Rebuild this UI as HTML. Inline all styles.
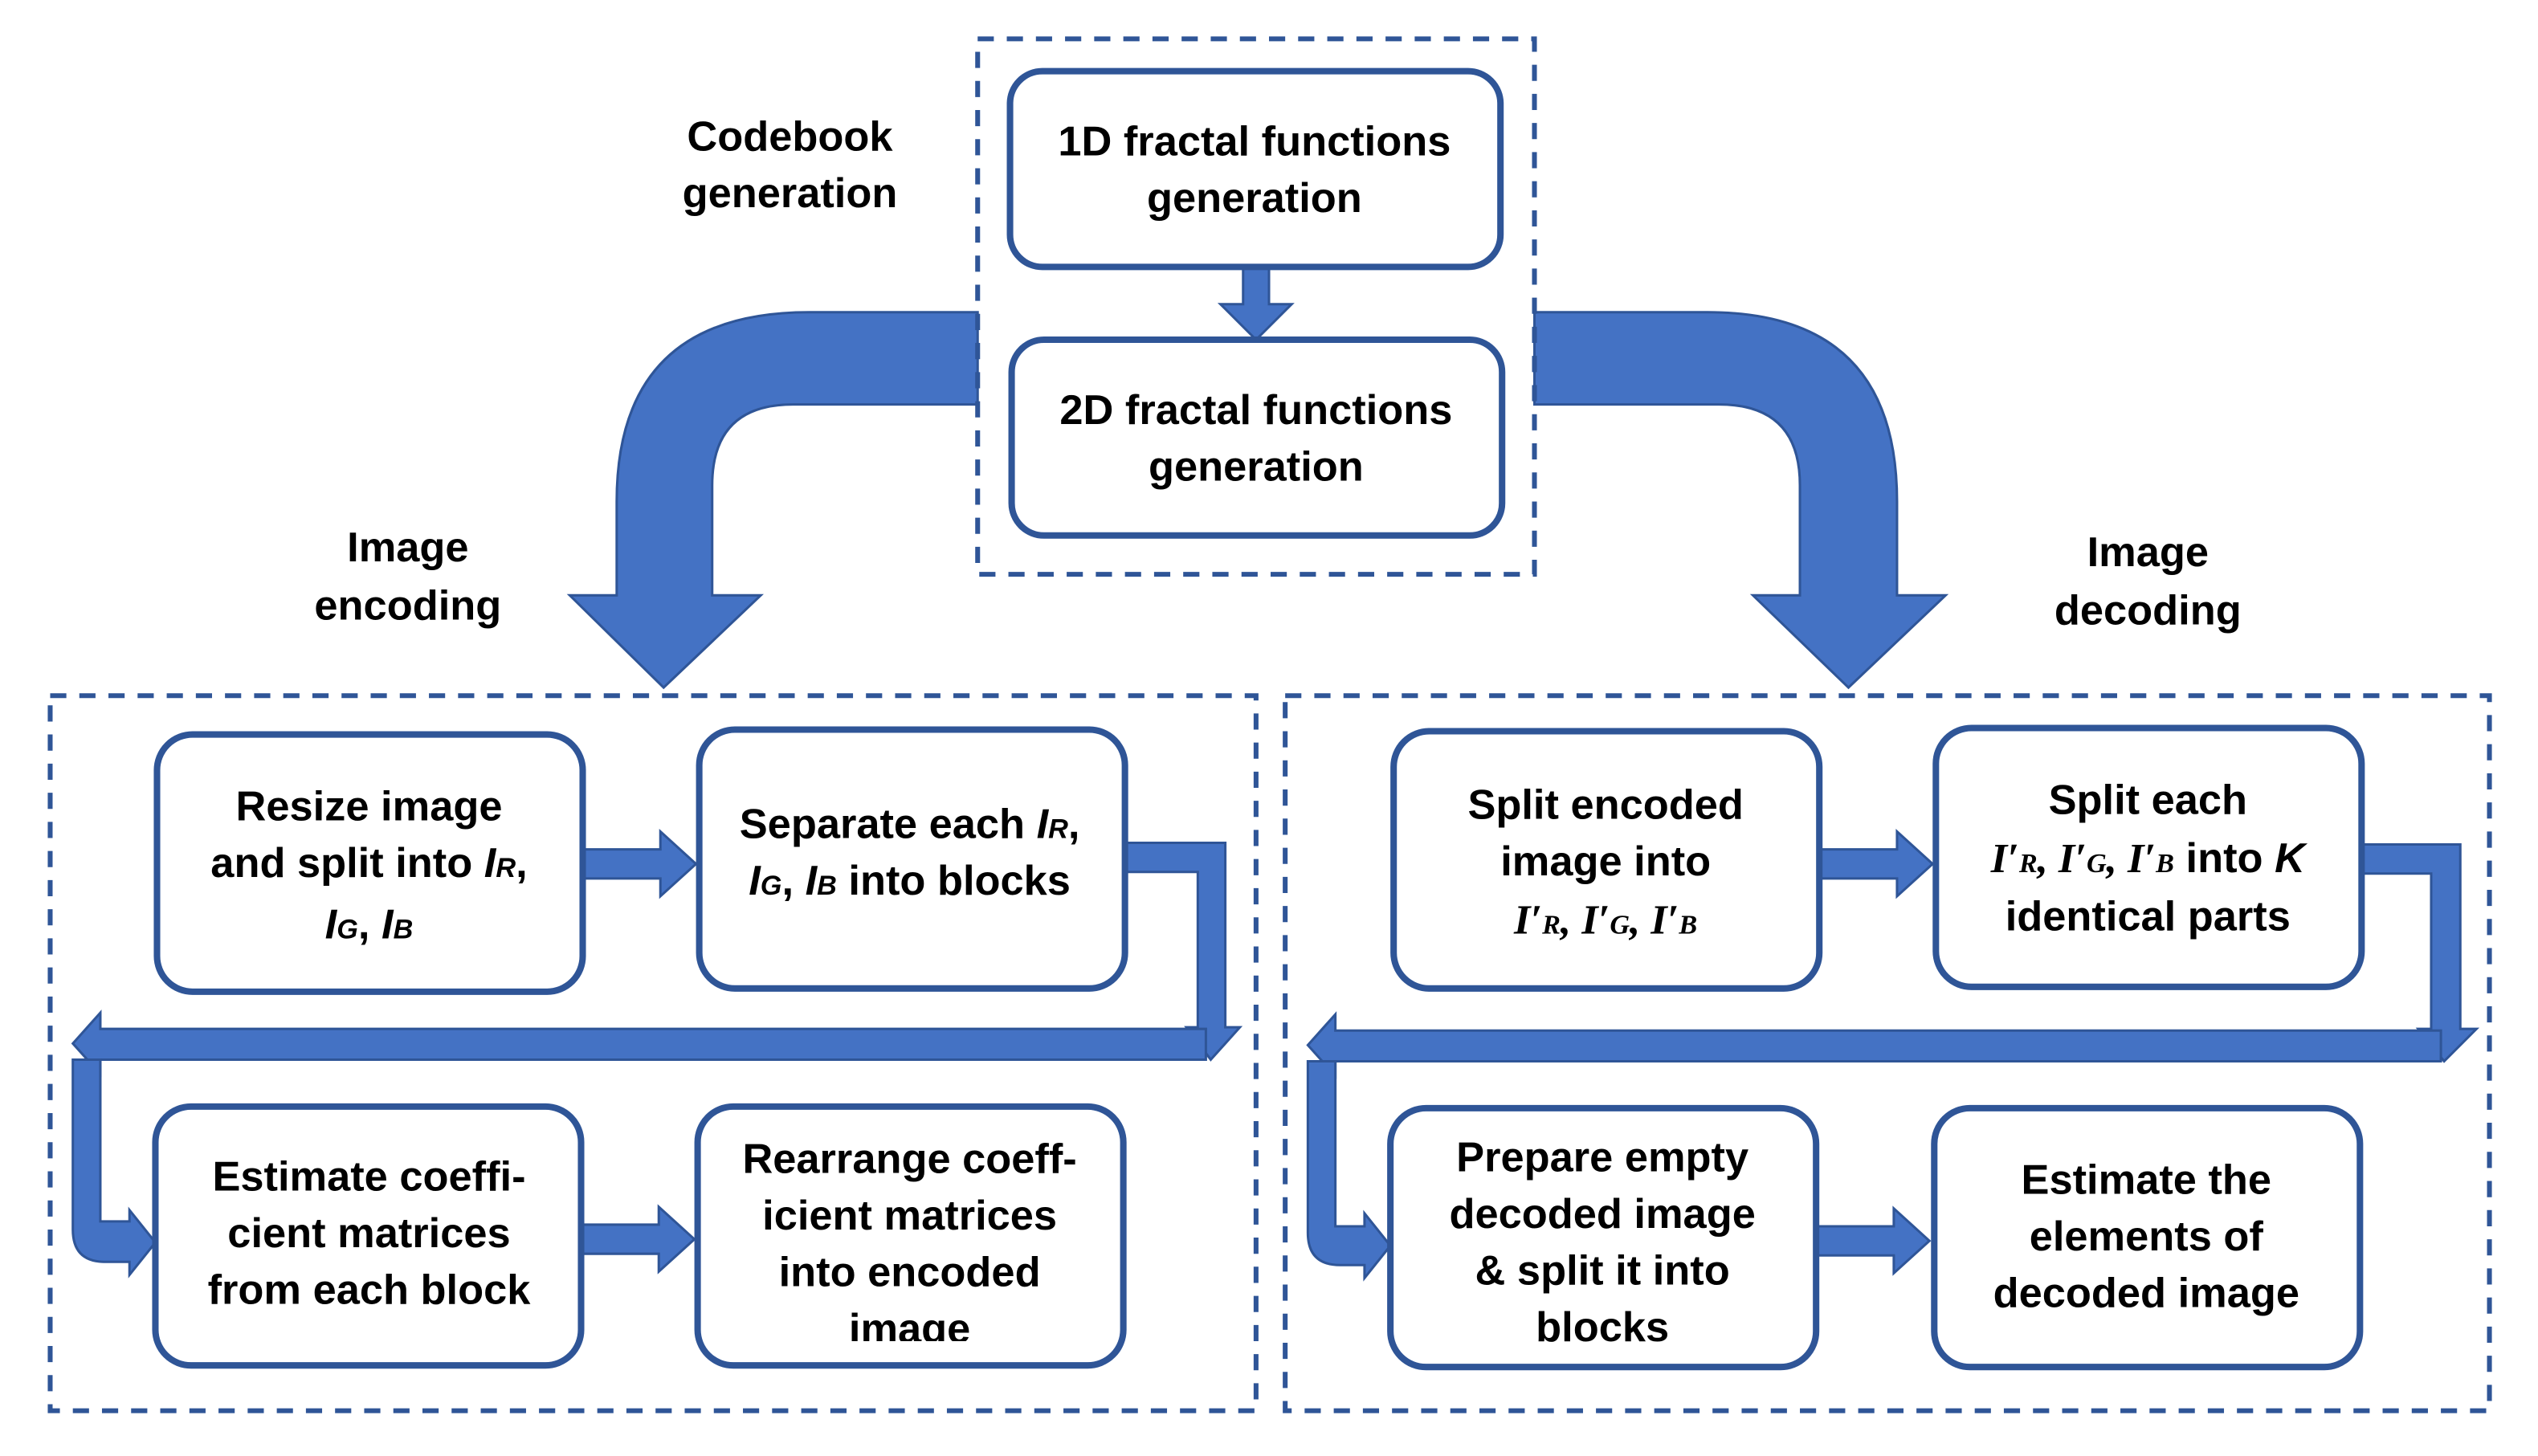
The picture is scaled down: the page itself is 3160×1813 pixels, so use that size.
<!DOCTYPE html>
<html><head><meta charset="utf-8"><style>
html,body{margin:0;padding:0;background:#fff;}
svg{display:block;}
text{font-family:"Liberation Sans",Arial,sans-serif;font-weight:bold;font-size:26px;fill:#000;text-anchor:middle;}
.i{font-style:italic;}
.s{font-size:17px;font-style:italic;}
</style></head><body>
<svg width="3160" height="1813" viewBox="0 0 1568 900" preserveAspectRatio="none" xmlns="http://www.w3.org/2000/svg">
<g fill="#4472C4" stroke="#2F5597" stroke-width="1.5">
<path d="M604,193 L500,193 Q381,193 381,310 L381,368 L352,368 L410,425 L470,368 L440,368 L440,300 Q440,250 490,250 L604,250 Z"/>
<path d="M948,193 L1055,193 Q1172,193 1172,310 L1172,368 L1202,368 L1142,425 L1083,368 L1112,368 L1112,300 Q1112,250 1062,250 L948,250 Z"/>
<path d="M768,165 L784,165 L784,188 L798,188 L776,210 L754,188 L768,188 Z"/>
<path d="M360,525 L408,525 L408,514 L430,534 L408,554 L408,543 L360,543 Z"/>
<path d="M359,757 L407,757 L407,746 L429,766 L407,786 L407,775 L359,775 Z"/>
<path d="M1124,525 L1172,525 L1172,514 L1194,534 L1172,554 L1172,543 L1124,543 Z"/>
<path d="M1122,758 L1170,758 L1170,747 L1192,767 L1170,787 L1170,776 L1122,776 Z"/>
<path d="M695,521 L757,521 L757,635 L766,635 L748,655 L733,635 L740,635 L740,539 L695,539 Z"/>
<path d="M745,636 L62,636 L62,626 L45,645 L62,664 L62,655 L745,655 Z"/>
<path d="M45,655 L62,655 L62,755 L80,755 L80,748 L96,768 L80,788 L80,780 L65,780 Q45,780 45,760 Z"/>
<path d="M1459,522 L1520,522 L1520,636 L1530,636 L1510,656 L1494,636 L1502,636 L1502,540 L1459,540 Z"/>
<path d="M1508,637 L825,637 L825,627 L808,646 L825,665 L825,656 L1508,656 Z"/>
<path d="M808,656 L825,656 L825,758 L843,758 L843,750 L859,770 L843,790 L843,782 L828,782 Q808,782 808,762 Z"/>
</g>
<g fill="none" stroke="#2F5597" stroke-width="3" stroke-dasharray="10,8">
<rect x="604" y="24" width="344" height="331"/>
<rect x="31" y="430" width="745" height="442"/>
<rect x="794" y="430" width="744" height="442"/>
</g>
<g fill="#fff" stroke="#2F5597" stroke-width="4">
<rect x="624" y="44" width="303" height="121" rx="20"/>
<rect x="625" y="210" width="303" height="121" rx="20"/>
<rect x="97" y="454" width="263" height="159" rx="22"/>
<rect x="432" y="451" width="263" height="160" rx="22"/>
<rect x="96" y="684" width="263" height="160" rx="22"/>
<rect x="431" y="684" width="263" height="160" rx="22"/>
<rect x="861" y="452" width="263" height="159" rx="22"/>
<rect x="1196" y="450" width="263" height="160" rx="22"/>
<rect x="859" y="685" width="263" height="160" rx="22"/>
<rect x="1195" y="685" width="263" height="160" rx="22"/>
</g>
<text x="488" y="93">Codebook</text><text x="488" y="128">generation</text>
<text x="252" y="347">Image</text><text x="252" y="383">encoding</text>
<text x="1327" y="350">Image</text><text x="1327" y="386">decoding</text>
<text x="775" y="96">1D fractal functions</text><text x="775" y="131">generation</text>
<text x="776" y="262">2D fractal functions</text><text x="776" y="297">generation</text>
<text x="228" y="507">Resize image</text>
<text x="228" y="542">and split into <tspan class="i">I</tspan><tspan class="s">R</tspan>,</text>
<text x="228" y="580"><tspan class="i">I</tspan><tspan class="s">G</tspan>, <tspan class="i">I</tspan><tspan class="s">B</tspan></text>
<text x="562" y="518">Separate each <tspan class="i">I</tspan><tspan class="s">R</tspan>,</text>
<text x="562" y="553"><tspan class="i">I</tspan><tspan class="s">G</tspan>, <tspan class="i">I</tspan><tspan class="s">B</tspan> into blocks</text>
<text x="228" y="736">Estimate coeffi-</text>
<text x="228" y="771">cient matrices</text>
<text x="228" y="806">from each block</text>
<text x="562" y="725">Rearrange coeff-</text>
<text x="562" y="760">icient matrices</text>
<text x="562" y="795">into encoded</text>
<svg x="431" y="805" width="263" height="24" viewBox="431 805 263 24"><text x="562" y="830">image</text></svg>
<text x="992" y="506">Split encoded</text>
<text x="992" y="541">image into</text>
<text x="992" y="577" style="font-family:'Liberation Serif',serif;font-style:italic">I′<tspan class="s">R</tspan>, I′<tspan class="s">G</tspan>, I′<tspan class="s">B</tspan></text>
<text x="1327" y="503">Split each</text>
<text x="1327" y="539"><tspan style="font-family:'Liberation Serif',serif;font-style:italic">I′<tspan class="s">R</tspan>, I′<tspan class="s">G</tspan>, I′<tspan class="s">B</tspan></tspan> into <tspan class="i">K</tspan></text>
<text x="1327" y="575">identical parts</text>
<text x="990" y="724">Prepare empty</text>
<text x="990" y="759">decoded image</text>
<text x="990" y="794">&amp; split it into</text>
<text x="990" y="829">blocks</text>
<text x="1326" y="738">Estimate the</text>
<text x="1326" y="773">elements of</text>
<text x="1326" y="808">decoded image</text>
</svg>
</body></html>
